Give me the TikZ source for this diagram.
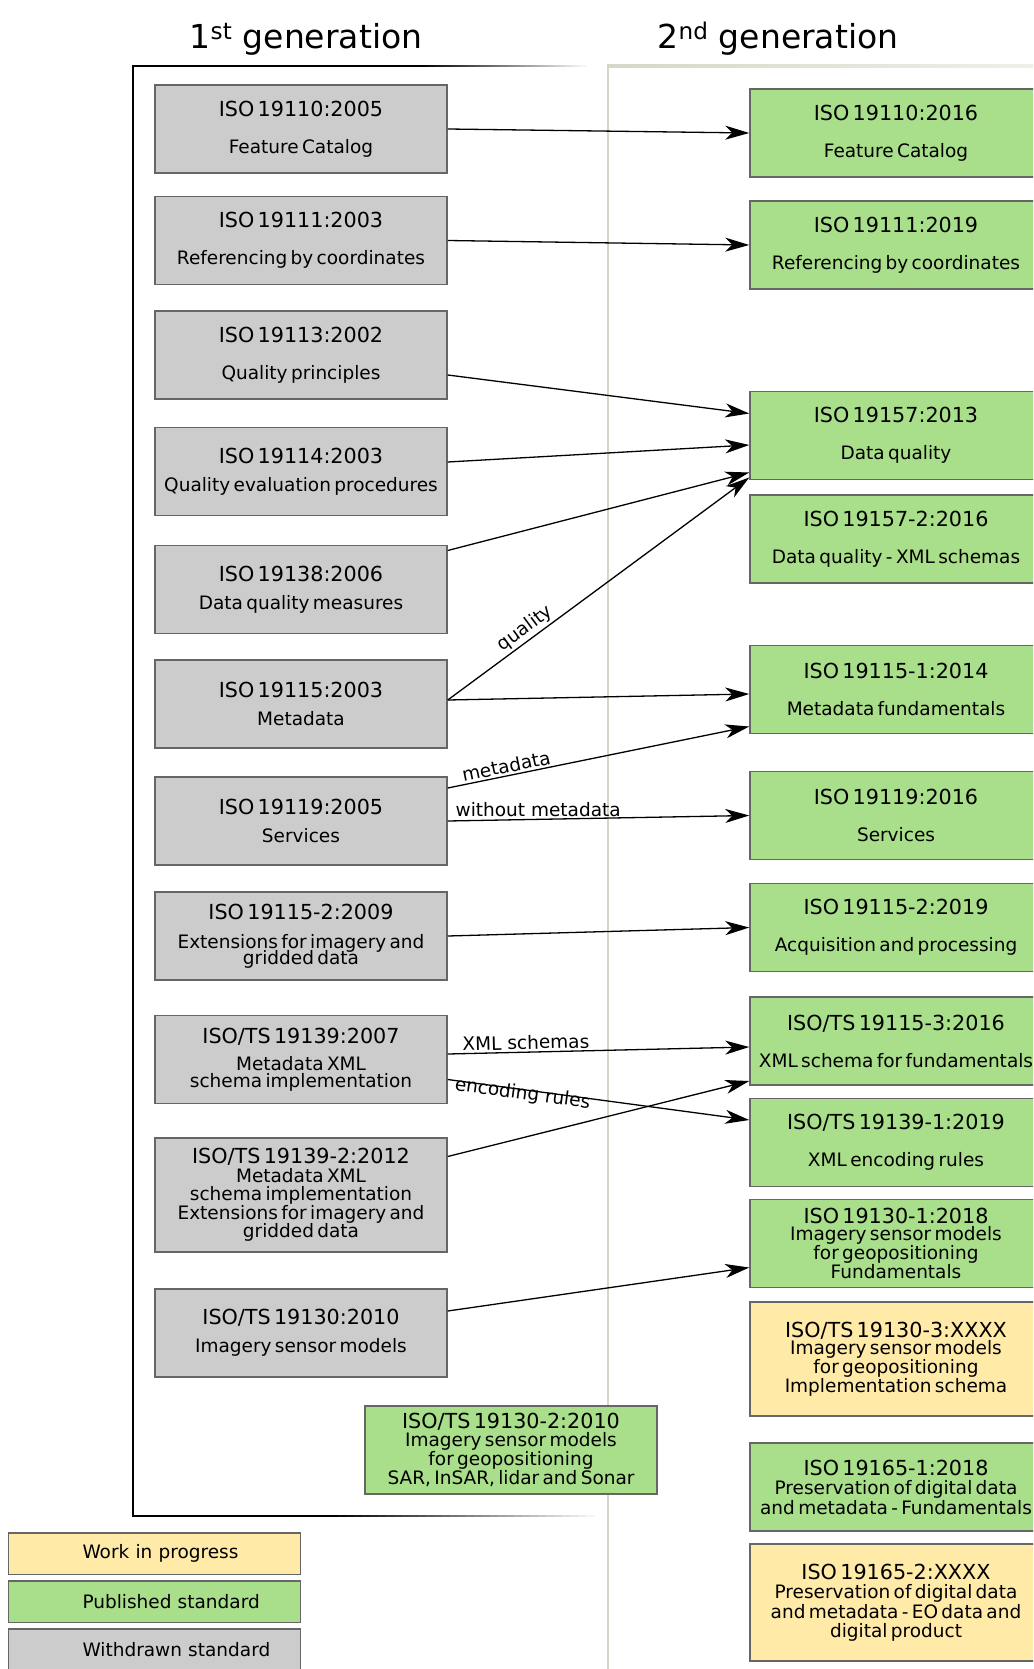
\documentclass[tikz,border=0pt]{standalone}
\usepackage{fontspec}
\setmainfont{DejaVu Sans}
\usepackage{tikz}
\usetikzlibrary{arrows.meta}
\definecolor{oldgrey}{HTML}{CCCCCC}
\definecolor{newgreen}{HTML}{A9DE8A}
\definecolor{wipyellow}{HTML}{FFEAA8}
\definecolor{edgegrey}{HTML}{666666}
\definecolor{framegrey}{HTML}{D5D8C6}
\newcommand{\stdnum}{\fontsize{20.7}{20.7}\selectfont}
\newcommand{\stdname}{\fontsize{18.5}{22}\selectfont}
\newcommand{\std}[3][37]{{\stdnum #2\par}{\fontsize{18.5}{#1}\selectfont #3\par}}

\begin{document}
\begin{tikzpicture}[x=1pt, y=-1pt,
  stdbox/.style = {shape=rectangle, draw=edgegrey, line width=1.5pt, text width=292pt, inner xsep=0pt, inner ysep=0pt, align=center, minimum height=88pt},
  oldstd/.style = {stdbox, fill=oldgrey},
  newstd/.style = {stdbox, fill=newgreen},
  wipstd/.style = {stdbox, fill=wipyellow},
  keybox/.style = {stdbox, minimum height=41.5pt, align=left, font=\stdname},
  lbl/.style = {font=\stdname, inner sep=2pt},
  arr/.style = {-{Stealth[length=24pt, width=14pt, inset=7pt]}, line width=1.3pt}]
\useasboundingbox (0,0) rectangle (1033,1669);
\clip (0,0) rectangle (1033,1669);

% generation frames
\draw[line width=2.5pt, framegrey] (608,66) -- (608,1669);
\shade[left color=framegrey, right color=framegrey!40] (607,64.8) rectangle (1033,67.2);
\draw[line width=2pt] (420,66) -- (133,66) -- (133,1516) -- (330,1516);
\foreach \k [evaluate=\k as \pc using int(100-3*\k)] in {0,...,32}
  { \draw[line width=2pt, black!\pc] (420+5*\k,66) -- (426+5*\k,66);
    \draw[line width=2pt, black!\pc] (330+8*\k,1516) -- (339+8*\k,1516); }

\node[font=\fontsize{33}{40}\selectfont, anchor=base] (h;1) at (306,49) {1\textsuperscript{st} generation};
\node[font=\fontsize{33}{40}\selectfont, anchor=base] (h;2) at (778,49) {2\textsuperscript{nd} generation};

% 1st generation
\node[oldstd] (1;1) at (301,129) {\std{ISO 19110:2005}{Feature Catalog}};
  \node[oldstd] (1;2) at (301,240.5) {\std{ISO 19111:2003}{Referencing by coordinates}};
  \node[oldstd] (1;3) at (301,355) {\std{ISO 19113:2002}{Quality principles}};
  \node[oldstd] (1;4) at (301,471.5) {\std[28]{ISO 19114:2003}{Quality evaluation procedures}};
  \node[oldstd] (1;5) at (301,589.5) {\std[28]{ISO 19138:2006}{Data quality measures}};
  \node[oldstd] (1;6) at (301,704) {\std[28]{ISO 19115:2003}{Metadata}};
  \node[oldstd] (1;7) at (301,821) {\std[28]{ISO 19119:2005}{Services}};
  \node[oldstd] (1;8) at (301,936) {\std[29]{ISO 19115-2:2009}{Extensions for imagery and\\[-13pt]gridded data}};
  \node[oldstd] (1;9) at (301,1059.5) {\std[27]{ISO/TS 19139:2007}{Metadata XML\\[-10pt]schema implementation}};
  \node[oldstd, minimum height=114pt] (1;10) at (301,1195) {\std[18.5]{ISO/TS 19139-2:2012}{Metadata XML\\schema implementation\\Extensions for imagery and\\gridded data}};
  \node[oldstd] (1;11) at (301,1333) {\std[28]{ISO/TS 19130:2010}{Imagery sensor models}};
  \node[newstd] (1;12) at (511,1450) {\std[17.5]{ISO/TS 19130-2:2010}{Imagery sensor models\\for geopositioning\\SAR, InSAR, lidar and Sonar}};

% 2nd generation
\node[newstd] (2;1) at (896,133) {\std{ISO 19110:2016}{Feature Catalog}};
  \node[newstd] (2;2) at (896,245) {\std{ISO 19111:2019}{Referencing by coordinates}};
  \node[newstd] (2;3) at (896,435.5) {\std{ISO 19157:2013}{Data quality}};
  \node[newstd] (2;4) at (896,539) {\std{ISO 19157-2:2016}{Data quality - XML schemas}};
  \node[newstd] (2;5) at (896,689.5) {\std{ISO 19115-1:2014}{Metadata fundamentals}};
  \node[newstd] (2;6) at (896,815.5) {\std{ISO 19119:2016}{Services}};
  \node[newstd] (2;7) at (896,927.5) {\std{ISO 19115-2:2019}{Acquisition and processing}};
  \node[newstd] (2;8) at (896,1041) {\std{ISO/TS 19115-3:2016}{XML schema for fundamentals}};
  \node[newstd] (2;9) at (896,1142.5) {\std{ISO/TS 19139-1:2019}{XML encoding rules}};
  \node[newstd] (2;10) at (896,1243.5) {\std[17.5]{ISO 19130-1:2018}{Imagery sensor models\\for geopositioning\\Fundamentals}};
  \node[wipstd, minimum height=114pt] (2;11) at (896,1359) {\std[17.5]{ISO/TS 19130-3:XXXX}{Imagery sensor models\\for geopositioning\\Implementation schema}};
  \node[newstd] (2;12) at (896,1487) {\std[19.5]{ISO 19165-1:2018}{Preservation of digital data\\and metadata - Fundamentals}};
  \node[wipstd, minimum height=117pt] (2;13) at (896,1602.5) {\std[19.5]{ISO 19165-2:XXXX}{Preservation of digital data\\and metadata - EO data and\\digital product}};

% legend
\node[keybox, fill=wipyellow] (0;1) at (154.5,1553.5) {\hspace*{74pt}Work in progress};
  \node[keybox, fill=newgreen] (0;2) at (154.5,1601.8) {\hspace*{74pt}Published standard};
  \node[keybox, fill=oldgrey] (0;3) at (154.5,1649.5) {\hspace*{74pt}Withdrawn standard};

\foreach \i/\j in {1/1,2/2,8/7}
  { \draw[arr] (1;\i.east) -- (2;\j.west); }
\draw[arr] ([yshift=-20pt]1;3.east) -- ([yshift=22pt]2;3.west);
\draw[arr] ([yshift=9.5pt]1;4.east) -- ([yshift=-9.5pt]2;3.west);
\draw[arr] ([yshift=39pt]1;5.east) -- ([yshift=-37pt]2;3.west);
\draw[arr] ([yshift=4pt]1;6.east) -- node[lbl, sloped, above, pos=0.28] {quality} ([yshift=-42pt]2;3.west);
\draw[arr] ([yshift=4pt]1;6.east) -- ([yshift=-4.5pt]2;5.west);
\draw[arr] ([yshift=33pt]1;7.east) -- node[lbl, sloped, above, pos=0.2] {metadata} ([yshift=-37pt]2;5.west);
\draw[arr] (1;7.east) -- node[lbl, above, pos=0.3] {without metadata} (2;6.west);
\draw[arr] ([yshift=5.5pt]1;9.east) -- node[lbl, sloped, above, pos=0.26] {XML schemas} ([yshift=-6pt]2;8.west);
\draw[arr] ([yshift=-20pt]1;9.east) -- node[lbl, sloped, below=-7pt, pos=0.25] {encoding rules} ([yshift=22.5pt]2;9.west);
\draw[arr] ([yshift=38.5pt]1;10.east) -- ([yshift=-40pt]2;8.west);
\draw[arr] ([yshift=22pt]1;11.east) -- ([yshift=-24pt]2;10.west);

\end{tikzpicture}
\end{document}
